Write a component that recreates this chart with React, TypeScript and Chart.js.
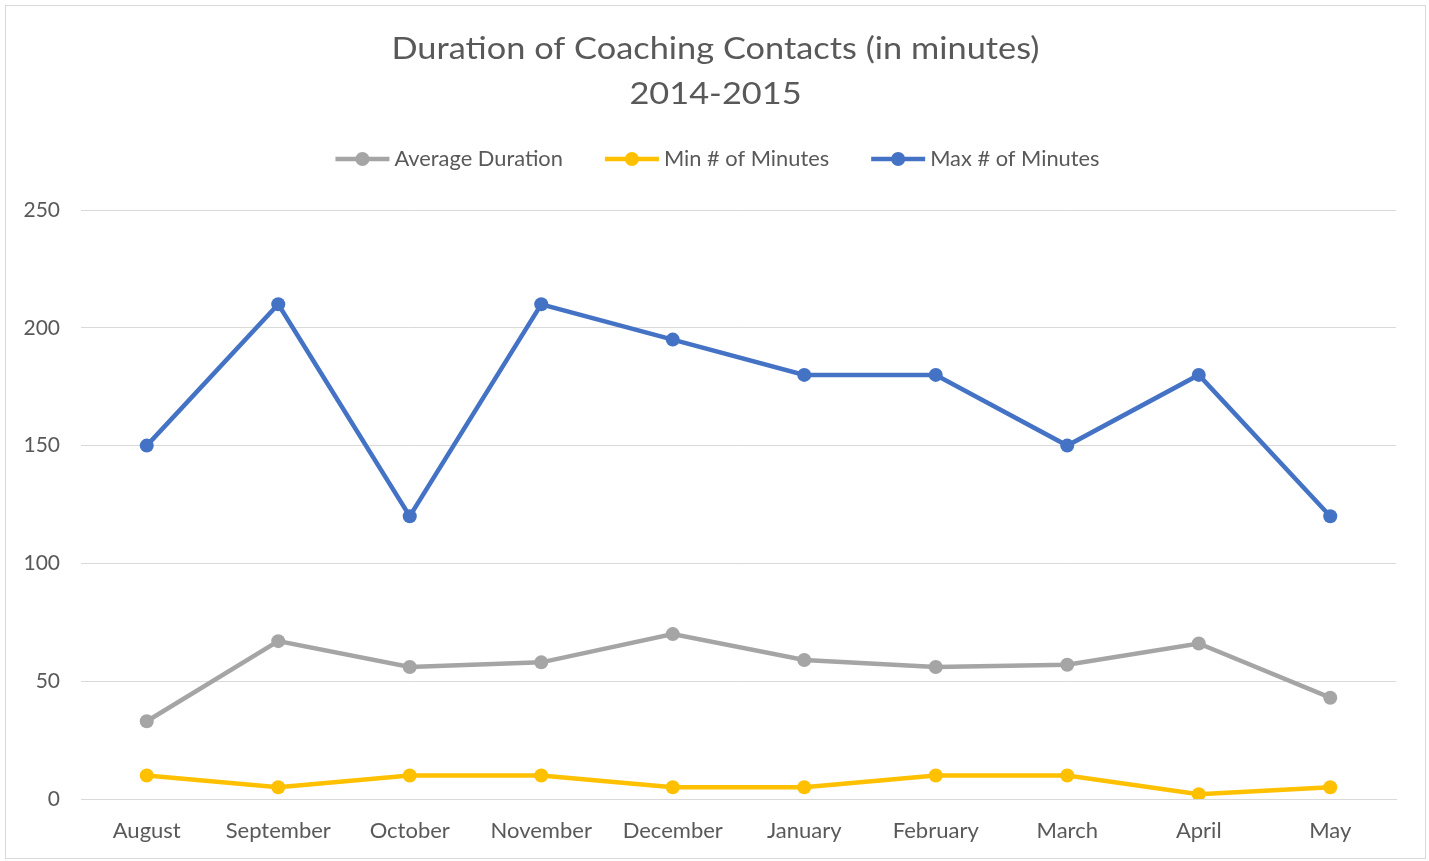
import React, { useEffect, useRef } from "react";
import { Chart, registerables } from "chart.js";

Chart.register(...registerables);

const months = ["August", "September", "October", "November", "December", "January", "February", "March", "April", "May"];
const averageDuration = [33, 67, 56, 58, 70, 59, 56, 57, 66, 43];
const minMinutes = [10, 5, 10, 10, 5, 5, 10, 10, 2, 5];
const maxMinutes = [150, 210, 120, 210, 195, 180, 180, 150, 180, 120];
const seriesNames = ["Average Duration", "Min # of Minutes", "Max # of Minutes"];
const titleLines = ["Duration of Coaching Contacts (in minutes)", "2014-2015"];
const yTicks = [0, 50, 100, 150, 200, 250];

const FONT = "Lato, 'Noto Sans', sans-serif";
const colors = ["#A5A5A5", "#FFC000", "#4472C4"];

function stretchText(ctx: CanvasRenderingContext2D, text: string, x: number, y: number, sx: number) {
  ctx.save();
  ctx.translate(x, y);
  ctx.scale(sx, 1);
  ctx.fillText(text, 0, 0);
  ctx.restore();
}

const headerPlugin = {
  id: "header",
  afterDraw(chart: any) {
    const ctx = chart.ctx as CanvasRenderingContext2D;
    const w = chart.width;
    ctx.save();
    ctx.fillStyle = "#595959";
    ctx.textAlign = "center";
    ctx.textBaseline = "middle";
    ctx.font = `30px ${FONT}`;
    stretchText(ctx, titleLines[0], w / 2, 43, 1.145);
    stretchText(ctx, titleLines[1], w / 2, 88, 1.145);

    // legend
    ctx.font = `21px ${FONT}`;
    const sx = 1.04;
    const lineLen = 54;
    const gapText = 5;
    const gapItem = 42;
    const items = chart.data.datasets.map((d: any) => ({
      label: d.label,
      color: d.borderColor,
      w: lineLen + gapText + ctx.measureText(d.label).width * sx,
    }));
    const total = items.reduce((s: number, it: any) => s + it.w, 0) + gapItem * (items.length - 1);
    let x = w / 2 - total / 2 + 2;
    const y = 153;
    ctx.textAlign = "left";
    for (const it of items) {
      ctx.strokeStyle = it.color;
      ctx.lineWidth = 4.5;
      ctx.beginPath();
      ctx.moveTo(x, y);
      ctx.lineTo(x + lineLen, y);
      ctx.stroke();
      ctx.fillStyle = it.color;
      ctx.beginPath();
      ctx.arc(x + lineLen / 2, y, 7, 0, Math.PI * 2);
      ctx.fill();
      ctx.fillStyle = "#595959";
      stretchText(ctx, it.label, x + lineLen + gapText, y, sx);
      x += it.w + gapItem;
    }
    ctx.restore();
  },
};

export default function App() {
  const ref = useRef<HTMLCanvasElement>(null);
  useEffect(() => {
    if (!ref.current) return;
    const data = [averageDuration, minMinutes, maxMinutes];
    const chart = new Chart(ref.current, {
      type: "line",
      data: {
        labels: months,
        datasets: data.map((vals, i) => ({
          label: seriesNames[i],
          data: vals,
          borderColor: colors[i],
          backgroundColor: colors[i],
          borderWidth: 4.5,
          pointRadius: 7,
          pointHoverRadius: 7,
          pointBorderWidth: 0,
          tension: 0,
        })),
      },
      options: {
        animation: false,
        responsive: false,
        maintainAspectRatio: false,
        layout: { padding: { top: 204, right: 29, left: 0, bottom: 0 } },
        plugins: {
          legend: { display: false },
          title: { display: false },
          tooltip: { enabled: false },
        },
        scales: {
          x: {
            offset: true,
            grid: { display: false, drawTicks: false },
            border: { display: true, color: "#D9D9D9", width: 1 },
            ticks: { color: "#595959", font: { family: FONT, size: 22 }, padding: 19, maxRotation: 0 },
            afterFit: (s: any) => { s.height = 59; },
          },
          y: {
            min: 0,
            max: 250,
            afterBuildTicks: (s: any) => { s.ticks = yTicks.map((v) => ({ value: v })); },
            grid: { color: "#D9D9D9", lineWidth: 1, drawTicks: false },
            border: { display: false },
            ticks: { color: "#595959", font: { family: FONT, size: 21 }, padding: 21 },
            afterFit: (s: any) => { s.width = 75; },
          },
        },
      },
      plugins: [headerPlugin],
    });
    return () => chart.destroy();
  }, []);
  return (
    <div style={{ position: "fixed", left: 5, top: 5, width: 1421, height: 854, border: "1px solid #D9D9D9", boxSizing: "border-box", background: "#fff" }}>
      <canvas ref={ref} width={1419} height={852} style={{ display: "block" }} />
    </div>
  );
}
